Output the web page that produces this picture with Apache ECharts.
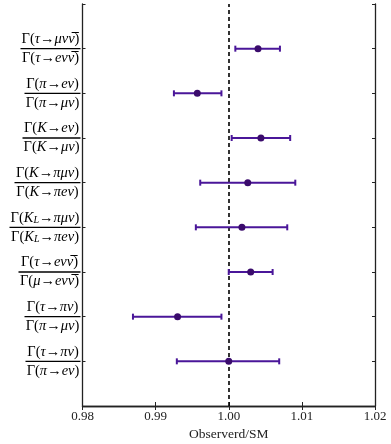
<!DOCTYPE html>
<html>
<head>
<meta charset="utf-8">
<script src="https://cdn.jsdelivr.net/npm/echarts@6/dist/echarts.min.js"></script>
<style>
html,body{margin:0;padding:0;background:#fff;}
#c{width:391px;height:444px;}
</style>
</head>
<body>
<div id="c"></div>
<script>
// ---- data (top to bottom) ----
const numerators = ['Γ(τ→μνν\u0305)', 'Γ(π→eν)', 'Γ(K→eν)', 'Γ(K→πμν)', 'Γ(K_L→πμν)', 'Γ(τ→eνν\u0305)', 'Γ(τ→πν)', 'Γ(τ→πν)'];
const denominators = ['Γ(τ→eνν\u0305)', 'Γ(π→μν)', 'Γ(K→μν)', 'Γ(K→πeν)', 'Γ(K_L→πeν)', 'Γ(μ→eνν\u0305)', 'Γ(π→μν)', 'Γ(π→eν)'];
const centers = [1.0040, 0.9957, 1.0044, 1.0026, 1.0018, 1.0030, 0.9930, 1.0000];
const lows    = [1.0009, 0.9925, 1.0004, 0.9961, 0.9955, 1.0000, 0.9869, 0.9929];
const highs   = [1.0070, 0.9990, 1.0084, 1.0091, 1.0080, 1.0060, 0.9990, 1.0069];
const xTicks = [0.98, 0.99, 1.00, 1.01, 1.02];
const xTitle = 'Observerd/SM';

const FONT = '"Liberation Serif", "DejaVu Serif", serif';
const FS = 14.5, SUBFS = 10;
const lineColor = '#4a1699';
const markerColor = '#3a0b6c';
const n = numerators.length;

// tokenize a math string into roman / italic / subscript segments
function tokenize(s) {
  const segs = [];
  const roman = 'Γ()→';
  for (let i = 0; i < s.length; i++) {
    const ch = s[i];
    let type, txt = ch;
    if (ch === '_') { type = 's'; txt = s[++i]; }
    else if (ch === '\u0305') { segs[segs.length - 1].t += ch; continue; }
    else if (roman.indexOf(ch) >= 0) type = 'r';
    else type = 'i';
    const last = segs[segs.length - 1];
    if (last && last.type === type) last.t += txt; else segs.push({type, t: txt});
  }
  return segs;
}
const cv = document.createElement('canvas').getContext('2d');
function measure(segs) {
  let w = 0;
  segs.forEach(sg => {
    cv.font = (sg.type === 'r' ? '' : 'italic ') + (sg.type === 's' ? SUBFS : FS) + 'px ' + FONT;
    w += cv.measureText(sg.t).width;
  });
  return w;
}
const rich = {
  r: {fontFamily: FONT, fontSize: FS, lineHeight: 16, color: '#000', align: 'center'},
  i: {fontFamily: FONT, fontSize: FS, fontStyle: 'italic', lineHeight: 16, color: '#000', align: 'center'},
  s: {fontFamily: FONT, fontSize: SUBFS, fontStyle: 'italic', lineHeight: 11, color: '#000', align: 'center', verticalAlign: 'bottom'}
};
const labelTexts = {};
for (let k = 0; k < n; k++) {
  const a = tokenize(numerators[k]), b = tokenize(denominators[k]);
  const w = Math.ceil(Math.max(measure(a), measure(b))) + 2;
  rich['b' + k] = {width: w, height: 1.3, lineHeight: 3, backgroundColor: '#000', align: 'center', fontSize: 1};
  const fmt = segs => segs.map(sg => '{' + sg.type + '|' + sg.t + '}').join('');
  labelTexts[n - k] = fmt(a) + '\n{b' + k + '| }\n' + fmt(b);
}

const yPos = centers.map((_, k) => n - k);
const errData = centers.map((c, k) => [lows[k], highs[k], yPos[k]]);
const ptData = centers.map((c, k) => [c, yPos[k]]);

const chart = echarts.init(document.getElementById('c'), null, {renderer: 'canvas'});
const axisLine = {show: true, lineStyle: {color: '#222', width: 1.3}};
const xMin = xTicks[0], xMax = xTicks[xTicks.length - 1];
chart.setOption({
  animation: false,
  backgroundColor: '#fff',
  grid: {left: 82.5, right: 16, top: 4, bottom: 38, containLabel: false, outerBoundsMode: 'none'},
  xAxis: [{
    type: 'value', min: xMin, max: xMax, interval: 0.01, position: 'bottom',
    axisLine, axisTick: {show: true, inside: true, length: 4, lineStyle: {color: '#222'}},
    splitLine: {show: false},
    axisLabel: {fontFamily: FONT, fontSize: 13, color: '#222', margin: 4,
      formatter: v => v.toFixed(2)},
    name: xTitle, nameLocation: 'middle', nameGap: 19,
    nameTextStyle: {fontFamily: FONT, fontSize: 13.5, color: '#222'}
  }, {
    type: 'value', min: xMin, max: xMax, interval: 0.01, position: 'top',
    axisLine, axisTick: {show: true, inside: true, length: 4, lineStyle: {color: '#222'}},
    axisLabel: {show: false}, splitLine: {show: false}
  }],
  yAxis: [{
    type: 'value', min: 0, max: n + 1, interval: 1, position: 'left',
    axisLine, axisTick: {show: true, inside: true, length: 3, lineStyle: {color: '#222'}},
    splitLine: {show: false},
    axisLabel: {margin: 2, rich, formatter: v => labelTexts[v] || ''}
  }, {
    type: 'value', min: 0, max: n + 1, interval: 1, position: 'right',
    axisLine, axisTick: {show: true, inside: true, length: 3, lineStyle: {color: '#222'}},
    axisLabel: {show: false}, splitLine: {show: false}
  }],
  series: [{
    type: 'custom',
    data: errData,
    renderItem: function (params, api) {
      const y = api.value(2);
      const p1 = api.coord([api.value(0), y]);
      const p2 = api.coord([api.value(1), y]);
      const cap = 3;
      const st = {stroke: lineColor, lineWidth: 2};
      return {type: 'group', children: [
        {type: 'line', shape: {x1: p1[0], y1: p1[1], x2: p2[0], y2: p2[1]}, style: st},
        {type: 'line', shape: {x1: p1[0], y1: p1[1] - cap, x2: p1[0], y2: p1[1] + cap}, style: st},
        {type: 'line', shape: {x1: p2[0], y1: p2[1] - cap, x2: p2[0], y2: p2[1] + cap}, style: st}
      ]};
    },
    z: 3
  }, {
    type: 'scatter',
    data: ptData,
    symbol: 'circle', symbolSize: 7,
    itemStyle: {color: markerColor, opacity: 1},
    z: 4,
    markLine: {
      silent: true, symbol: 'none', label: {show: false},
      lineStyle: {color: '#000', type: [4, 3], width: 1.6},
      data: [{xAxis: 1.0}],
      z: 2
    }
  }]
});
</script>
</body>
</html>
